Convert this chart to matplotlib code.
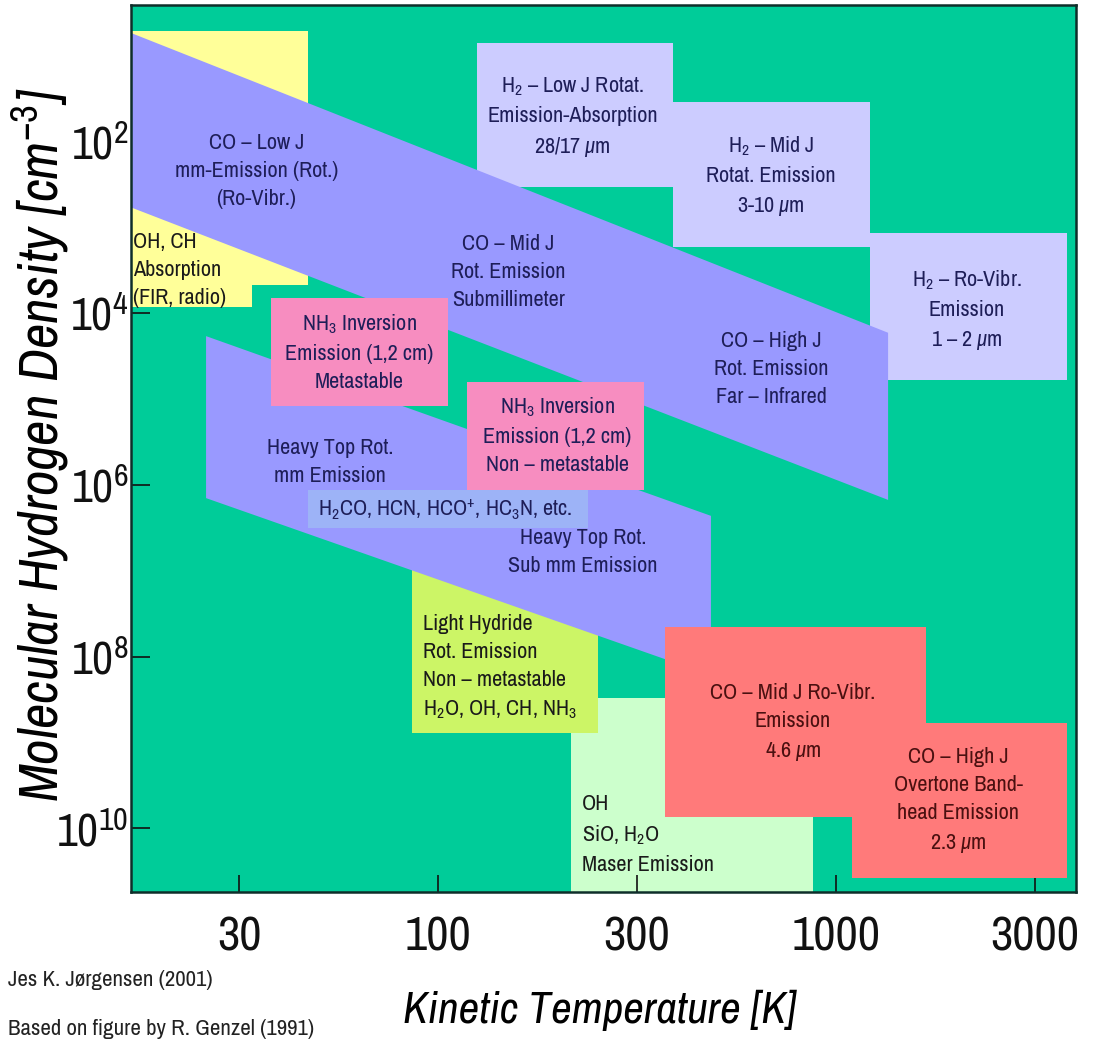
import matplotlib
matplotlib.use("Agg")
import matplotlib.pyplot as plt

plt.rcParams['font.family'] = ['Archivo Narrow', 'Liberation Sans', 'DejaVu Sans']
plt.rcParams['mathtext.fontset'] = 'custom'
plt.rcParams['mathtext.rm'] = 'Archivo Narrow'
plt.rcParams['mathtext.it'] = 'Archivo Narrow:italic'

# axis ranges (kinetic temperature [K], density [cm^-3])
t_range = [16.9, 4010]
n_range = [5.5e10, 2.6]

x_ticks = [10**1.5, 100, 10**2.5, 1000, 10**3.5]
x_tick_labels = ['30', '100', '300', '1000', '3000']
y_ticks = [1e2, 1e4, 1e6, 1e8, 1e10]
y_tick_labels = ['10$^{2}$', '10$^{4}$', '10$^{6}$', '10$^{8}$', '10$^{10}$']

# regions: temperature corners and density corners
oh_ch_t = [16.9, 47, 47, 34, 34, 16.9]
oh_ch_n = [5.2, 5.2, 4.7e3, 4.7e3, 8.6e3, 8.6e3]

h2_low_t = [125, 389]
h2_low_n = [7.2, 344]
h2_mid_t = [389, 1216]
h2_mid_n = [35, 1.71e3]
h2_rovib_t = [1216, 3800]
h2_rovib_n = [1.18e3, 6.05e4]

co_band_t = [16.9, 1352, 1352, 16.9]
co_band_n = [5.5, 1.7e4, 1.5e6, 590]

heavy_band_t = [26.1, 485, 485, 26.1]
heavy_band_n = [1.86e4, 2.3e6, 1.65e8, 1.43e6]

nh3_meta_t = [38, 106]
nh3_meta_n = [6.7e3, 1.22e5]
nh3_non_t = [118, 330]
nh3_non_n = [6.4e4, 1.16e6]

molecules_t = [47.1, 238]
molecules_n = [1.16e6, 3.2e6]

hydride_t = [86, 252]
hydride_n = [7.5e6, 7.8e8]

maser_t = [216, 875]
maser_n = [3.05e8, 5.5e10]

co_rovib_t = [372, 1683]
co_rovib_n = [4.55e7, 7.4e9]
co_overtone_t = [1097, 3800]
co_overtone_n = [5.96e8, 3.8e10]

GREEN = '#00CC99'
YELLOW = '#FFFF99'
BLUE = '#9999FF'
LAVENDER = '#CCCCFF'
PINK = '#F78DC0'
LIGHTBLUE = '#9DB3F7'
LIME = '#CCF566'
PALEGREEN = '#CCFFCC'
RED = '#FF7A7A'


def box(ax, t, n, color, z):
    ax.fill([t[0], t[1], t[1], t[0]], [n[0], n[0], n[1], n[1]],
            color=color, lw=0, zorder=z)


fig = plt.figure(figsize=(10.95, 10.4), dpi=100)
ax = fig.add_axes([0.1196, 0.1423, 0.8630, 0.8529])
ax.set_facecolor(GREEN)
ax.set_xscale('log')
ax.set_yscale('log')

ax.fill(oh_ch_t, oh_ch_n, color=YELLOW, lw=0, zorder=1)
box(ax, h2_low_t, h2_low_n, LAVENDER, 1)
box(ax, h2_mid_t, h2_mid_n, LAVENDER, 1)
box(ax, h2_rovib_t, h2_rovib_n, LAVENDER, 1)
ax.fill(co_band_t, co_band_n, color=BLUE, lw=0, zorder=2)
box(ax, maser_t, maser_n, PALEGREEN, 1)
box(ax, hydride_t, hydride_n, LIME, 1.5)
ax.fill(heavy_band_t, heavy_band_n, color=BLUE, lw=0, zorder=2)
box(ax, nh3_meta_t, nh3_meta_n, PINK, 3)
box(ax, nh3_non_t, nh3_non_n, PINK, 3)
box(ax, molecules_t, molecules_n, LIGHTBLUE, 3)
box(ax, co_rovib_t, co_rovib_n, RED, 3)
box(ax, co_overtone_t, co_overtone_n, RED, 3)

navy = '#1E1E58'
dark = '#1A1A1A'
maroon = '#4A1010'
kw = dict(fontsize=16, linespacing=1.5, zorder=5)

ax.text(34.9, 223, 'CO – Low J\nmm-Emission (Rot.)\n(Ro-Vibr.)',
        ha='center', va='center', multialignment='center', color=navy, **kw)
ax.text(17.1, 3.2e3, 'OH, CH\nAbsorption\n(FIR, radio)',
        ha='left', va='center', color=dark, **kw)
ax.text(218, 52.6, 'H$_2$ – Low J Rotat.\nEmission-Absorption\n28/17 $\\mu$m',
        ha='center', va='center', multialignment='center', color=navy, **kw)
ax.text(150, 3.35e3, 'CO – Mid J\nRot. Emission\nSubmillimeter',
        ha='center', va='center', multialignment='center', color=navy, **kw)
ax.text(687, 255, 'H$_2$ – Mid J\nRotat. Emission\n3-10 $\\mu$m',
        ha='center', va='center', multialignment='center', color=navy, **kw)
ax.text(2134, 9.3e3, 'H$_2$ – Ro-Vibr.\nEmission\n1 – 2 $\\mu$m',
        ha='center', va='center', multialignment='center', color=navy, **kw)
ax.text(687, 4.5e4, 'CO – High J\nRot. Emission\nFar – Infrared',
        ha='center', va='center', multialignment='center', color=navy, **kw)
ax.text(63.4, 2.86e4, 'NH$_3$ Inversion\nEmission (1,2 cm)\nMetastable',
        ha='center', va='center', multialignment='center', color=navy, **kw)
ax.text(199, 2.65e5, 'NH$_3$ Inversion\nEmission (1,2 cm)\nNon – metastable',
        ha='center', va='center', multialignment='center', color=navy, **kw)
ax.text(53.6, 5.5e5, 'Heavy Top Rot.\nmm Emission',
        ha='center', va='center', multialignment='center', color=navy, **kw)
ax.text(104, 1.98e6, 'H$_2$CO, HCN, HCO$^{+}$, HC$_3$N, etc.',
        ha='center', va='center', color=navy, **kw)
ax.text(231, 6.1e6, 'Heavy Top Rot.\nSub mm Emission',
        ha='center', va='center', multialignment='center', color=navy, **kw)
ax.text(91.7, 1.33e8, 'Light Hydride\nRot. Emission\nNon – metastable\nH$_2$O, OH, CH, NH$_3$',
        ha='left', va='center', color=dark, **kw)
ax.text(230, 1.17e10, 'OH\nSiO, H$_2$O\nMaser Emission',
        ha='left', va='center', color=dark, **kw)
ax.text(780, 5.96e8, 'CO – Mid J Ro-Vibr.\nEmission\n4.6 $\\mu$m',
        ha='center', va='center', multialignment='center', color=maroon, **kw)
ax.text(2028, 4.8e9, 'CO – High J\nOvertone Band-\nhead Emission\n2.3 $\\mu$m',
        ha='center', va='center', multialignment='center', color=maroon, **kw)

ax.set_xlim(t_range)
ax.set_ylim(n_range)
ax.minorticks_off()
ax.set_xticks(x_ticks)
ax.set_xticklabels(x_tick_labels)
ax.set_yticks(y_ticks)
ax.set_yticklabels(y_tick_labels)
ax.tick_params(axis='x', direction='in', length=12, width=1.2, pad=17,
               labelsize=35, colors='#111111')
ax.tick_params(axis='y', direction='in', length=14, width=1.2, pad=2,
               labelsize=33, colors='#111111')
for s in ax.spines.values():
    s.set_linewidth(1.8)
    s.set_color('#0E2E2A')
    s.set_zorder(10)

fig.text(40 / 1095, 1 - 445 / 1040, 'Molecular Hydrogen Density [cm$^{-3}$]',
         rotation=90, ha='center', va='center', fontsize=40, style='italic')
fig.text(600 / 1095, 1 - 1010 / 1040, 'Kinetic Temperature [K]',
         ha='center', va='center', fontsize=32.5, style='italic')
fig.text(8 / 1095, 1 - 980 / 1040, 'Jes K. Jørgensen (2001)',
         ha='left', va='center', fontsize=16.5, color='#222222')
fig.text(8 / 1095, 1 - 1029 / 1040, 'Based on figure by R. Genzel (1991)',
         ha='left', va='center', fontsize=16.5, color='#222222')

fig.savefig('out.png', dpi=100, facecolor='white')
